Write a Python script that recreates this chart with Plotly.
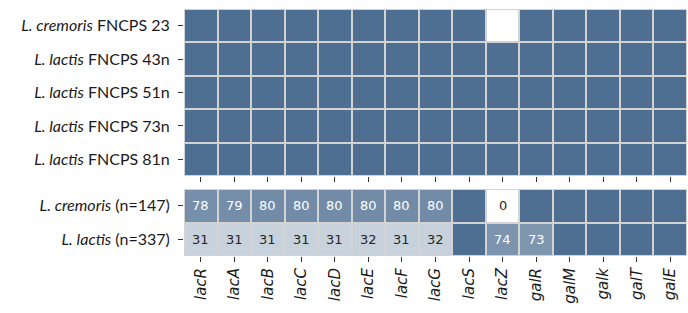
import plotly.graph_objects as go
from plotly.subplots import make_subplots

genes = ["lacR", "lacA", "lacB", "lacC", "lacD", "lacE", "lacF", "lacG",
         "lacS", "lacZ", "galR", "galM", "galk", "galT", "galE"]

strains = ["<i>L. cremoris</i> FNCPS 23", "<i>L. lactis</i> FNCPS 43n",
           "<i>L. lactis</i> FNCPS 51n", "<i>L. lactis</i> FNCPS 73n",
           "<i>L. lactis</i> FNCPS 81n"]
strain_cremoris23 = [100, 100, 100, 100, 100, 100, 100, 100, 100, 0, 100, 100, 100, 100, 100]
strain_lactis43n = [100] * 15
strain_lactis51n = [100] * 15
strain_lactis73n = [100] * 15
strain_lactis81n = [100] * 15

groups = ["<i>L. cremoris</i> (n=147)", "<i>L. lactis</i> (n=337)"]
group_cremoris = [78, 79, 80, 80, 80, 80, 80, 80, 100, 0, 100, 100, 100, 100, 100]
group_lactis = [31, 31, 31, 31, 31, 32, 31, 32, 100, 74, 73, 100, 100, 100, 100]

W, H = 688, 313
L, R, T, B = 184, 1, 9, 57
ph = H - T - B
split_low = (256 - 176) / ph

fig = make_subplots(rows=2, cols=1, shared_xaxes=True)

cs = [[0, "#ffffff"], [1, "#4f6f92"]]
top_z = [strain_cremoris23, strain_lactis43n, strain_lactis51n, strain_lactis73n, strain_lactis81n]
bot_z = [group_cremoris, group_lactis]

fig.add_trace(go.Heatmap(z=top_z, x=genes, y=strains, colorscale=cs, zmin=0, zmax=100,
                         showscale=False, xgap=2, ygap=2, hoverinfo="skip"), row=1, col=1)
fig.add_trace(go.Heatmap(z=bot_z, x=genes, y=groups, colorscale=cs, zmin=0, zmax=100,
                         showscale=False, xgap=2, ygap=2, hoverinfo="skip"), row=2, col=1)

for gi, g in enumerate(groups):
    for xi, gene in enumerate(genes):
        v = bot_z[gi][xi]
        if v < 100:
            fig.add_annotation(x=gene, y=g, xref="x2", yref="y2", text=str(v), showarrow=False,
                               font=dict(family="DejaVu Sans", size=13,
                                         color="#ffffff" if v >= 50 else "#262626"))

yfont = dict(family="Lato", size=16, color="#1a1a1a")
fig.update_yaxes(autorange="reversed", ticks="outside", ticklen=5, tickcolor="#333333",
                 tickfont=yfont, ticklabelstandoff=5, showgrid=False, zeroline=False,
                 showline=False, automargin=False)
fig.update_xaxes(ticks="outside", ticklen=5, tickcolor="#333333", showgrid=False,
                 zeroline=False, showline=False, automargin=False)
fig.update_layout(
    width=W, height=H,
    margin=dict(l=L, r=R, t=T, b=B),
    paper_bgcolor="#ffffff", plot_bgcolor="#d3d3d3",
    xaxis=dict(domain=[0, 1], showticklabels=False, ticks="outside"),
    xaxis2=dict(domain=[0, 1], tickangle=-90,
                tickfont=dict(family="DejaVu Sans", size=15, color="#1a1a1a"),
                tickvals=genes, ticktext=["<i>%s</i>" % g for g in genes]),
    yaxis=dict(domain=[split_low, 1]),
    yaxis2=dict(domain=[0, 67 / ph]),
)

fig.write_html("out.html")
